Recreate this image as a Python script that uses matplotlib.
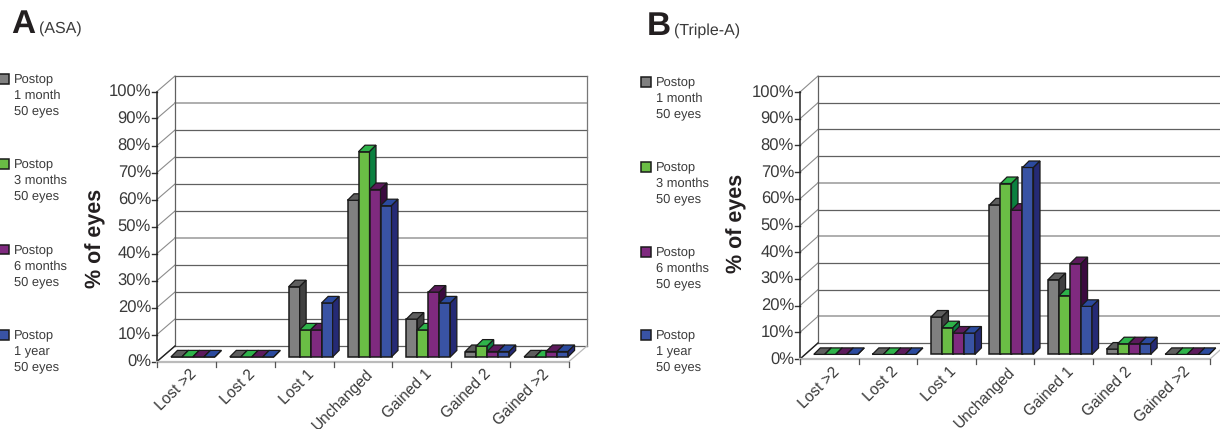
import matplotlib
matplotlib.use('Agg')
import matplotlib.pyplot as plt
from matplotlib.patches import Polygon, Rectangle

plt.rcParams['font.family'] = ['Liberation Sans', 'DejaVu Sans']
plt.rcParams['text.hinting'] = 'no_hinting'

W, H = 1220, 429

categories = ['Lost >2', 'Lost 2', 'Lost 1', 'Unchanged', 'Gained 1', 'Gained 2', 'Gained >2']
legend_labels = ['Postop\n1 month\n50 eyes', 'Postop\n3 months\n50 eyes',
                 'Postop\n6 months\n50 eyes', 'Postop\n1 year\n50 eyes']
y_ticks = [0, 10, 20, 30, 40, 50, 60, 70, 80, 90, 100]

# ASA
asa_1m = [0, 0, 26, 58, 14, 2, 0]
asa_3m = [0, 0, 10, 76, 10, 4, 0]
asa_6m = [0, 0, 10, 62, 24, 2, 2]
asa_1y = [0, 0, 20, 56, 20, 2, 2]

# Triple-A
triple_1m = [0, 0, 14, 56, 28, 2, 0]
triple_3m = [0, 0, 10, 64, 22, 4, 0]
triple_6m = [0, 0, 8, 54, 34, 4, 0]
triple_1y = [0, 0, 8, 70, 18, 4, 0]

front = ['#808080', '#6abd45', '#7f2a7f', '#3953a4']
top = ['#5e5e5e', '#2eb34a', '#5c1a5c', '#2b4a9e']
side = ['#404040', '#0b8040', '#3a0a3f', '#252a75']
edge = '#1a1a1a'
txt = '#3a3a3a'


def box(ax, x0, x1, y, b0, dx, dy, color_f, color_t, color_s):
    # one bar: front face, lid and right side
    ax.add_patch(Rectangle((x0, b0), x1 - x0, y, fc=color_f, ec=edge, lw=1.1, clip_on=False, zorder=3))
    ax.add_patch(Polygon([(x0, b0 + y), (x1, b0 + y), (x1 + dx, b0 + y + dy), (x0 + dx, b0 + y + dy)],
                         fc=color_t, ec=edge, lw=0.9, clip_on=False, zorder=3))
    ax.add_patch(Polygon([(x1, b0), (x1 + dx, b0 + dy), (x1 + dx, b0 + y + dy), (x1, b0 + y)],
                         fc=color_s, ec=edge, lw=0.9, clip_on=False, zorder=3))


def panel(left, right, y0, y100, series, depth_x, depth_y, light_grid):
    ax = fig.add_axes([left / W, 1 - y0 / H, (right - left) / W, (y0 - y100) / H])
    n = len(categories)
    ax.set_xlim(0, n)
    ax.set_ylim(0, 100)
    ax.axis('off')
    ux = (right - left) / n
    uy = (y0 - y100) / 100
    dx, dy = depth_x / ux, depth_y / uy

    # back wall and gridlines
    for t in y_ticks:
        ax.plot([0, dx], [t, t + dy], color='#8c8c8c', lw=0.8, clip_on=False, zorder=1)
        if t in light_grid:
            ax.plot([dx, n + dx], [t + dy, t + dy], color='#a8a8a8', lw=1.3, clip_on=False, zorder=1)
        else:
            ax.plot([dx, n + dx], [t + dy, t + dy], color='#606060', lw=0.9, clip_on=False, zorder=1)
        ax.plot([-5 / ux, 0], [t, t], color='#333333', lw=1.0, clip_on=False)
        ax.text(-6 / ux, t - 1 / uy, f'{t}%', ha='right', va='center', fontsize=12, color=txt, clip_on=False)
    ax.plot([dx, dx], [dy, 100 + dy], color='#606060', lw=0.9, clip_on=False, zorder=1)
    ax.plot([0, 0], [0, 100], color='#222222', lw=1.1, clip_on=False, zorder=2)
    ax.plot([0, dx], [0, dy], color='#222222', lw=1.0, clip_on=False, zorder=2)
    ax.plot([n + dx, n + dx], [dy, 100 + dy], color='#777777', lw=0.9, clip_on=False, zorder=1)
    ax.plot([n, n + dx], [0, dy], color='#bbbbbb', lw=0.9, clip_on=False, zorder=1)
    ax.plot([0, n], [0, 0], color='#bbbbbb', lw=1.6, clip_on=False, zorder=2)

    # category ticks and labels
    for i, name in enumerate(categories):
        ax.plot([i, i], [0, -5 / uy], color='#555555', lw=0.9, clip_on=False)
        ax.text(i + 0.54, -5 / uy, name, rotation=45, ha='right', va='top', rotation_mode='anchor',
                fontsize=11.2, color=txt, clip_on=False)
    ax.plot([n, n], [0, -5 / uy], color='#555555', lw=0.9, clip_on=False)

    # bars
    bw = 11 / ux
    shift = 6.5 / ux
    b0 = 4.6 / uy
    bx, by = 6.5 / ux, 6.5 / uy
    for i in range(n):
        start = i + 0.5 - 2 * bw + shift
        for j, vals in enumerate(series):
            box(ax, start + j * bw, start + (j + 1) * bw, vals[i], b0, bx, by, front[j], top[j], side[j])
    return ax


fig = plt.figure(figsize=(W / 100, H / 100), dpi=100)

panel(157, 569, 361.5, 91.5, [asa_1m, asa_3m, asa_6m, asa_1y], 18, 15.5, [40, 90])
panel(800, 1210, 359, 92, [triple_1m, triple_3m, triple_6m, triple_1y], 18, 16, [10, 40, 60])

fig.text(11 / W, 1 - 33 / H, 'A', fontsize=24, fontweight='bold', color='#231f20')
fig.text(39 / W, 1 - 33 / H, '(ASA)', fontsize=11.5, color=txt)
fig.text(647 / W, 1 - 35 / H, 'B', fontsize=24, fontweight='bold', color='#231f20')
fig.text(674 / W, 1 - 35 / H, '(Triple-A)', fontsize=11.5, color=txt)

fig.text(96 / W, 1 - 238 / H, '% of eyes', rotation=90, ha='center', va='center',
         fontsize=15.5, fontweight='bold', color='#231f20')
fig.text(737 / W, 1 - 223 / H, '% of eyes', rotation=90, ha='center', va='center',
         fontsize=15.5, fontweight='bold', color='#231f20')

# legends
for lx, tx, ys in [(-1, 14, [79, 164, 250, 335]), (641, 656, [82, 167, 252, 335])]:
    for j, (label, ly) in enumerate(zip(legend_labels, ys)):
        fig.add_artist(Rectangle((lx / W, 1 - (ly + 4.5) / H), 10 / W, 9.5 / H, transform=fig.transFigure,
                                 fc=front[j], ec=edge, lw=1.1))
        fig.text(tx / W, 1 - (ly + 16.5) / H, label, fontsize=9.3, color=txt, va='center', linespacing=1.36)

fig.savefig('out.png', dpi=100)
